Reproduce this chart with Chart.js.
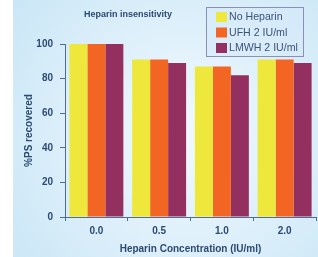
<!DOCTYPE html>
<html>
<head>
<meta charset="utf-8">
<script src="https://cdn.jsdelivr.net/npm/chart.js@4/dist/chart.umd.min.js"></script>
<style>
  html, body { margin: 0; padding: 0; background: #ffffff; }
  canvas { display: block; }
</style>
</head>
<body>
<canvas id="heparinChart" width="318" height="257"></canvas>
<script>
var categories = ['0.0', '0.5', '1.0', '2.0'];
var seriesNames = ['No Heparin', 'UFH 2 IU/ml', 'LMWH 2 IU/ml'];
var noHeparin = [100, 91, 87, 91];
var ufh = [100, 91, 87, 91];
var lmwh = [100, 89, 82, 89];
var yTicks = [0, 20, 40, 60, 80, 100];
var seriesColors = ['#eee83c', '#f36522', '#93305f'];

var FONT = "'Liberation Sans', Arial, sans-serif";
var INK = '#2c4a72';
var AXIS = '#4f6d94';

// panel background + title + boxed legend
var decor = {
    id: 'decor',
    beforeDraw: function (chart) {
        var ctx = chart.ctx;
        ctx.save();
        var g = ctx.createRadialGradient(185, 135, 10, 185, 135, 230);
        g.addColorStop(0, '#f0f8fe');
        g.addColorStop(0.5, '#dceffa');
        g.addColorStop(1, '#c8e5f6');
        ctx.fillStyle = g;
        ctx.fillRect(13, 0, chart.width - 13, chart.height);
        ctx.restore();
    },
    afterDraw: function (chart) {
        var ctx = chart.ctx;
        ctx.save();
        ctx.fillStyle = INK;
        ctx.font = 'bold 9px ' + FONT;
        ctx.textAlign = 'center';
        ctx.textBaseline = 'middle';
        ctx.fillText('Heparin insensitivity', 128, 14.5);

        ctx.fillStyle = 'rgba(214,234,248,0.6)';
        ctx.fillRect(206.5, 7.5, 97, 49);
        ctx.strokeStyle = '#8b8fb3';
        ctx.lineWidth = 1;
        ctx.strokeRect(206.5, 7.5, 97, 49);

        ctx.font = '10.6px ' + FONT;
        ctx.textAlign = 'left';
        chart.data.datasets.forEach(function (ds, i) {
            var y = 17 + i * 15.5;
            ctx.fillStyle = ds.backgroundColor;
            ctx.fillRect(216, y - 5, 11, 10);
            ctx.fillStyle = '#3d5278';
            ctx.fillText(ds.label, 229, y + 0.5);
        });
        ctx.restore();
    }
};

new Chart(document.getElementById('heparinChart'), {
    type: 'bar',
    data: {
        labels: categories,
        datasets: [
            { label: seriesNames[0], data: noHeparin, backgroundColor: seriesColors[0] },
            { label: seriesNames[1], data: ufh, backgroundColor: seriesColors[1] },
            { label: seriesNames[2], data: lmwh, backgroundColor: seriesColors[2] }
        ]
    },
    options: {
        responsive: false,
        animation: false,
        layout: { padding: { top: 44, right: 2, bottom: 0, left: 0 } },
        datasets: { bar: { categoryPercentage: 0.86, barPercentage: 1 } },
        plugins: { legend: { display: false }, tooltip: { enabled: false } },
        scales: {
            x: {
                afterFit: function (s) { s.height = 40; },
                grid: { drawOnChartArea: false, offset: true, tickLength: 4, color: AXIS },
                border: { color: AXIS, width: 1 },
                ticks: { color: INK, padding: 4, font: { family: FONT, size: 10, weight: 'bold' } },
                title: {
                    display: true,
                    text: 'Heparin Concentration (IU/ml)',
                    color: INK,
                    padding: { top: 0, bottom: 2 },
                    font: { family: FONT, size: 10, weight: 'bold' }
                }
            },
            y: {
                min: 0,
                max: 100,
                afterFit: function (s) { s.width = 65; },
                afterBuildTicks: function (s) { s.ticks = yTicks.map(function (v) { return { value: v }; }); },
                grid: { drawOnChartArea: false, tickLength: 5, color: AXIS },
                border: { color: AXIS, width: 1 },
                ticks: { color: INK, padding: 7, font: { family: FONT, size: 10, weight: 'bold' } },
                title: {
                    display: true,
                    text: '%PS recovered',
                    color: INK,
                    padding: { top: 23, bottom: 0 },
                    font: { family: FONT, size: 10, weight: 'bold' }
                }
            }
        }
    },
    plugins: [decor]
});
</script>
</body>
</html>
